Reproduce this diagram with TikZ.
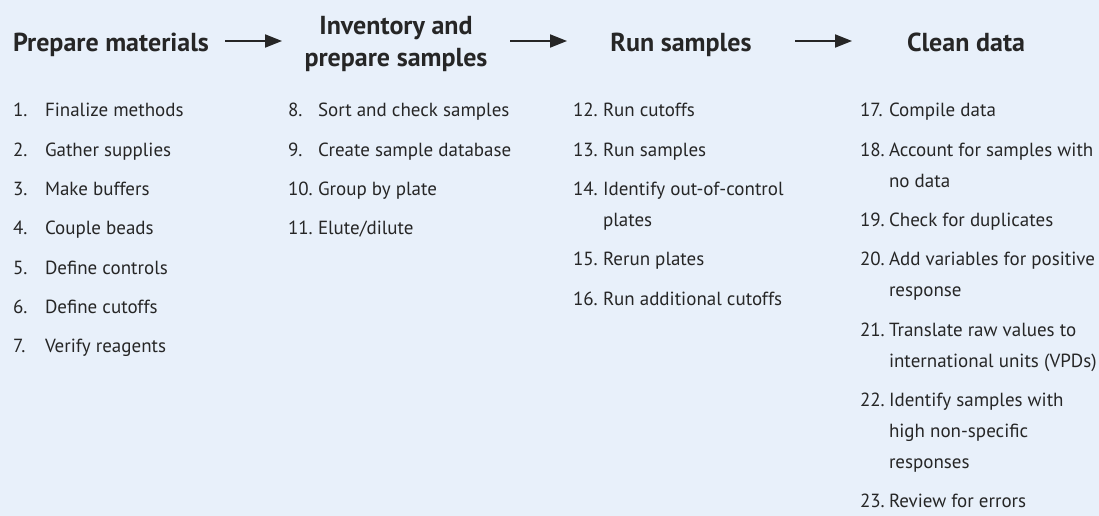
\documentclass[tikz,border=0pt]{standalone}
\usepackage{fontspec}
\setmainfont{PT Sans}
\usetikzlibrary{arrows.meta}
\definecolor{bg}{HTML}{E8F0FA}
\definecolor{ink}{HTML}{262626}
\begin{document}
\begin{tikzpicture}[x=1pt,y=-1pt,
  every node/.style={inner sep=0pt,outer sep=0pt,text=ink},
  head/.style={font=\fontsize{26}{32}\selectfont\bfseries,anchor=base},
  num/.style={font=\fontsize{19}{31}\selectfont,anchor=base west},
  itm/.style={font=\fontsize{19}{31}\selectfont,anchor=base west},
  flow/.style={draw=ink,line width=2pt,-{Triangle[length=17pt,width=13pt]}}]
\fill[bg] (0,0) rectangle (1099,516);
\useasboundingbox (0,0) rectangle (1099,516);
% headings
\node[head,anchor=base west] (h1) at (13,52) {Prepare materials};
\node[head] (h2a) at (396,35) {Inventory and};
\node[head] (h2b) at (396,67) {prepare samples};
\node[head] (h3) at (681,52) {Run samples};
\node[head] (h4) at (966,52) {Clean data};
\coordinate (a1s) at (225,41); \coordinate (a1e) at (282,41);
\coordinate (a2s) at (510,41); \coordinate (a2e) at (567,41);
\coordinate (a3s) at (795,41); \coordinate (a3e) at (852,41);
\draw[flow] (a1s) -- (a1e);
\draw[flow] (a2s) -- (a2e);
\draw[flow] (a3s) -- (a3e);
% column 1
\node[num] (n1) at (13,117) {1.}; \node[itm] (t1) at (45,117) {Finalize methods};
\node[num] (n2) at (13,156.3) {2.}; \node[itm] (t2) at (45,156.3) {Gather supplies};
\node[num] (n3) at (13,195.6) {3.}; \node[itm] (t3) at (45,195.6) {Make buffers};
\node[num] (n4) at (13,234.9) {4.}; \node[itm] (t4) at (45,234.9) {Couple beads};
\node[num] (n5) at (13,274.2) {5.}; \node[itm] (t5) at (45,274.2) {Define controls};
\node[num] (n6) at (13,313.5) {6.}; \node[itm] (t6) at (45,313.5) {Define cutoffs};
\node[num] (n7) at (13,352.8) {7.}; \node[itm] (t7) at (45,352.8) {Verify reagents};
% column 2
\node[num] (n8) at (288,117) {8.}; \node[itm] (t8) at (318,117) {Sort and check samples};
\node[num] (n9) at (288,156.3) {9.}; \node[itm] (t9) at (318,156.3) {Create sample database};
\node[num] (n10) at (288,195.6) {10.}; \node[itm] (t10) at (318,195.6) {Group by plate};
\node[num] (n11) at (288,234.9) {11.}; \node[itm] (t11) at (318,234.9) {Elute/dilute};
% column 3
\node[num] (n12) at (573,117) {12.}; \node[itm] (t12) at (603,117) {Run cutoffs};
\node[num] (n13) at (573,156.3) {13.}; \node[itm] (t13) at (603,156.3) {Run samples};
\node[num] (n14) at (573,195.6) {14.}; \node[itm] (t14) at (603,195.6) {Identify out-of-control};
\node[itm] (t14b) at (603,226.6) {plates};
\node[num] (n15) at (573,265.9) {15.}; \node[itm] (t15) at (603,265.9) {Rerun plates};
\node[num] (n16) at (573,305.2) {16.}; \node[itm] (t16) at (603,305.2) {Run additional cutoffs};
% column 4
\node[num] (n17) at (860,117) {17.}; \node[itm] (t17) at (889,117) {Compile data};
\node[num] (n18) at (860,156.3) {18.}; \node[itm] (t18) at (889,156.3) {Account for samples with};
\node[itm] (t18b) at (889,187.3) {no data};
\node[num] (n19) at (860,226.6) {19.}; \node[itm] (t19) at (889,226.6) {Check for duplicates};
\node[num] (n20) at (860,265.9) {20.}; \node[itm] (t20) at (889,265.9) {Add variables for positive};
\node[itm] (t20b) at (889,296.9) {response};
\node[num] (n21) at (860,336.2) {21.}; \node[itm] (t21) at (889,336.2) {Translate raw values to};
\node[itm] (t21b) at (889,367.2) {international units (VPDs)};
\node[num] (n22) at (860,406.5) {22.}; \node[itm] (t22) at (889,406.5) {Identify samples with};
\node[itm] (t22b) at (889,437.5) {high non-specific};
\node[itm] (t22c) at (889,468.5) {responses};
\node[num] (n23) at (860,507.8) {23.}; \node[itm] (t23) at (889,507.8) {Review for errors};
\end{tikzpicture}
\end{document}
